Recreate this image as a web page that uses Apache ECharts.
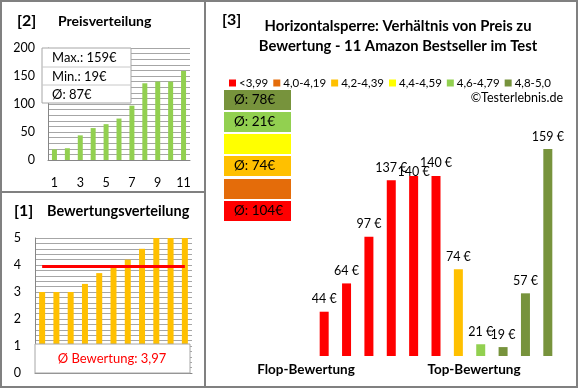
<!DOCTYPE html>
<html><head><meta charset="utf-8">
<script src="https://cdn.jsdelivr.net/npm/echarts@6/dist/echarts.min.js"></script>
<style>html,body{margin:0;padding:0;background:#fff}#c{width:580px;height:390px}</style>
</head><body><div id="c"></div>
<script>
// ---- data ----
var positions = ['1','2','3','4','5','6','7','8','9','10','11'];
var pricesSorted = [19, 21, 44, 57, 64, 74, 97, 137, 140, 140, 159];
var ratings = [3.0, 3.0, 3.0, 3.3, 3.7, 3.9, 4.2, 4.6, 5.0, 5.0, 5.0];
var prices = [44, 64, 97, 137, 140, 140, 74, 21, 19, 57, 159];
var avgRating = 3.97;
var classNames = ['<3,99', '4,0-4,19', '4,2-4,39', '4,4-4,59', '4,6-4,79', '4,8-5,0'];
var classLower = [0, 4.0, 4.2, 4.4, 4.6, 4.8];
var classColors = ['#FF0000', '#E46C0A', '#FFC000', '#FFFF00', '#92D050', '#77933C'];

var FONT = 'Lato';
function classOf(r){ var k=0; for(var i=0;i<classLower.length;i++){ if(r>=classLower[i]-1e-9) k=i; } return k; }

var maxP = Math.max.apply(null, pricesSorted), minP = Math.min.apply(null, pricesSorted);
var avgP = Math.round(pricesSorted.reduce(function(a,b){return a+b;},0)/pricesSorted.length);

// class series for right chart
var classSeries = [];
var classAvg = [];
for (var c=0;c<classNames.length;c++){
  var d=[], s=0, n=0;
  for (var i=0;i<prices.length;i++){
    if (classOf(ratings[i])===c){
      var item = {value: prices[i]};
      if (i===4) item.label = {offset:[0, 9]};
      d.push(item); s+=prices[i]; n++;
    } else d.push(null);
  }
  classAvg.push(n? Math.round(s/n): null);
  classSeries.push({
    name: classNames[c], type:'bar', xAxisIndex:2, yAxisIndex:2, stack:'p',
    data:d, barWidth:9, clip:true,
    itemStyle:{color:classColors[c]},
    label:{show:true, position:'top', distance:6, color:'#000', fontFamily:FONT, fontSize:12.5,
      formatter:function(p){return p.value+' €';}}
  });
}

var graphics = [];
// frame
graphics.push({type:'rect', shape:{x:1,y:1,width:576,height:386}, style:{fill:null, stroke:'#808080', lineWidth:2}, z:100});
graphics.push({type:'line', shape:{x1:205,y1:1,x2:205,y2:387}, style:{stroke:'#808080', lineWidth:2}, z:100});
graphics.push({type:'line', shape:{x1:1,y1:192,x2:205,y2:192}, style:{stroke:'#808080', lineWidth:2}, z:100});
// titles
function txt(x,y,t,size,bold,color,align){
  return {type:'text', x:x, y:y, z:100, style:{text:t, fontFamily:FONT, fontSize:size, fontWeight:bold?'bold':'normal', fill:color||'#000', textAlign:align||'left', textVerticalAlign:'middle'}};
}
graphics.push(txt(17,21,'[2]',16,true));
graphics.push(txt(58,21,'Preisverteilung',14,true));
graphics.push(txt(14,211,'[1]',16,true));
graphics.push(txt(47,211,'Bewertungsverteilung',14.5,true));
graphics.push(txt(222,20,'[3]',16,true));
graphics.push(txt(398,26,'Horizontalsperre: Verhältnis von Preis zu',14.8,true,'#000','center'));
graphics.push(txt(398,46,'Bewertung - 11 Amazon Bestseller im Test',14.8,true,'#000','center'));
graphics.push(txt(563,98,'©Testerlebnis.de',12.5,false,'#000','right'));
graphics.push(txt(306,370,'Flop-Bewertung',13.5,true,'#000','center'));
graphics.push(txt(474,370,'Top-Bewertung',13.5,true,'#000','center'));
// price info box
graphics.push({type:'rect', z:90, shape:{x:42,y:48,width:89,height:55}, style:{fill:'#fff', stroke:'#A6A6A6', lineWidth:1}});
graphics.push({type:'line', z:91, shape:{x1:42,y1:67,x2:131,y2:67}, style:{stroke:'#C8C8C8', lineWidth:1}});
graphics.push({type:'line', z:91, shape:{x1:42,y1:85,x2:131,y2:85}, style:{stroke:'#C8C8C8', lineWidth:1}});
graphics.push(txt(52,58,'Max.: '+maxP+'€',13,false,'#000'));
graphics.push(txt(52,77,'Min.: '+minP+'€',13,false,'#000'));
graphics.push(txt(52,95,'Ø: '+avgP+'€',13,false,'#000'));
// rating box
graphics.push({type:'rect', z:90, shape:{x:35,y:344,width:155,height:29}, style:{fill:'#fff', stroke:'#A6A6A6', lineWidth:1}});
graphics.push(txt(112,359,'Ø Bewertung: '+avgRating.toFixed(2).replace('.',','),13,false,'#FF0000','center'));
// class average boxes (top = highest class)
var boxTops = [90,112,134,156,179,201];
for (var b=0;b<6;b++){
  var ci = 5-b;
  graphics.push({type:'rect', z:90, shape:{x:224,y:boxTops[b],width:67,height:20}, style:{fill:classColors[ci]}});
  if (classAvg[ci]!==null) graphics.push(txt(234,boxTops[b]+10,'Ø: '+classAvg[ci]+'€',13.5,false,'#000'));
}

function gridLabelFmt(step){ return function(v){ var r=v/step; return Math.abs(r-Math.round(r))<1e-6 ? String(Math.round(v)) : ''; }; }

var option = {
  animation:false,
  textStyle:{fontFamily:FONT},
  legend:{data:classNames, left:224, top:72, itemWidth:7, itemHeight:7, itemGap:5, icon:'rect',
    textStyle:{fontFamily:FONT, fontSize:11.5, color:'#000', padding:[0,0,0,-2]}, selectedMode:false},
  grid:[
    {left:48, top:48, width:142, height:112},
    {left:35, top:238, width:157, height:135},
    {left:313, top:91, width:246, height:265}
  ],
  xAxis:[
    {gridIndex:0, type:'category', data:positions, axisTick:{show:false},
     axisLine:{lineStyle:{color:'#868686'}},
     axisLabel:{interval:1, margin:16, fontSize:12.5, color:'#000', fontFamily:FONT}},
    {gridIndex:1, type:'category', data:positions, axisTick:{show:false}, axisLabel:{show:false},
     axisLine:{lineStyle:{color:'#868686'}}},
    {gridIndex:2, type:'category', data:positions, show:false}
  ],
  yAxis:[
    {gridIndex:0, type:'value', min:0, max:200, interval:10,
     axisLine:{show:true, lineStyle:{color:'#868686'}}, axisTick:{show:false},
     axisLabel:{formatter:gridLabelFmt(50), fontSize:12.5, color:'#000', margin:13, fontFamily:FONT},
     splitLine:{lineStyle:{color:'#A6A6A6'}}},
    {gridIndex:1, type:'value', min:0, max:5, interval:0.2,
     axisLine:{show:true, lineStyle:{color:'#868686'}}, axisTick:{show:false},
     axisLabel:{formatter:gridLabelFmt(1), fontSize:12.5, color:'#000', margin:14, fontFamily:FONT},
     splitLine:{lineStyle:{color:'#A6A6A6'}}},
    {gridIndex:2, type:'value', min:12.7, max:200, show:false, splitLine:{show:false}}
  ],
  series:[
    {type:'bar', xAxisIndex:0, yAxisIndex:0, data:pricesSorted, barWidth:5, itemStyle:{color:'#92D050'}},
    {type:'bar', xAxisIndex:1, yAxisIndex:1, data:ratings, barWidth:6, itemStyle:{color:'#FFC000'},
     markLine:{symbol:'none', silent:true, label:{show:false}, lineStyle:{color:'#FF0000', width:3, type:'solid'},
       data:[[{coord:[0, avgRating]},{coord:[positions.length-1, avgRating]}]]}}
  ].concat(classSeries),
  graphic:graphics
};
var chart = echarts.init(document.getElementById('c'), null, {renderer:'canvas'});
chart.setOption(option);
</script></body></html>
